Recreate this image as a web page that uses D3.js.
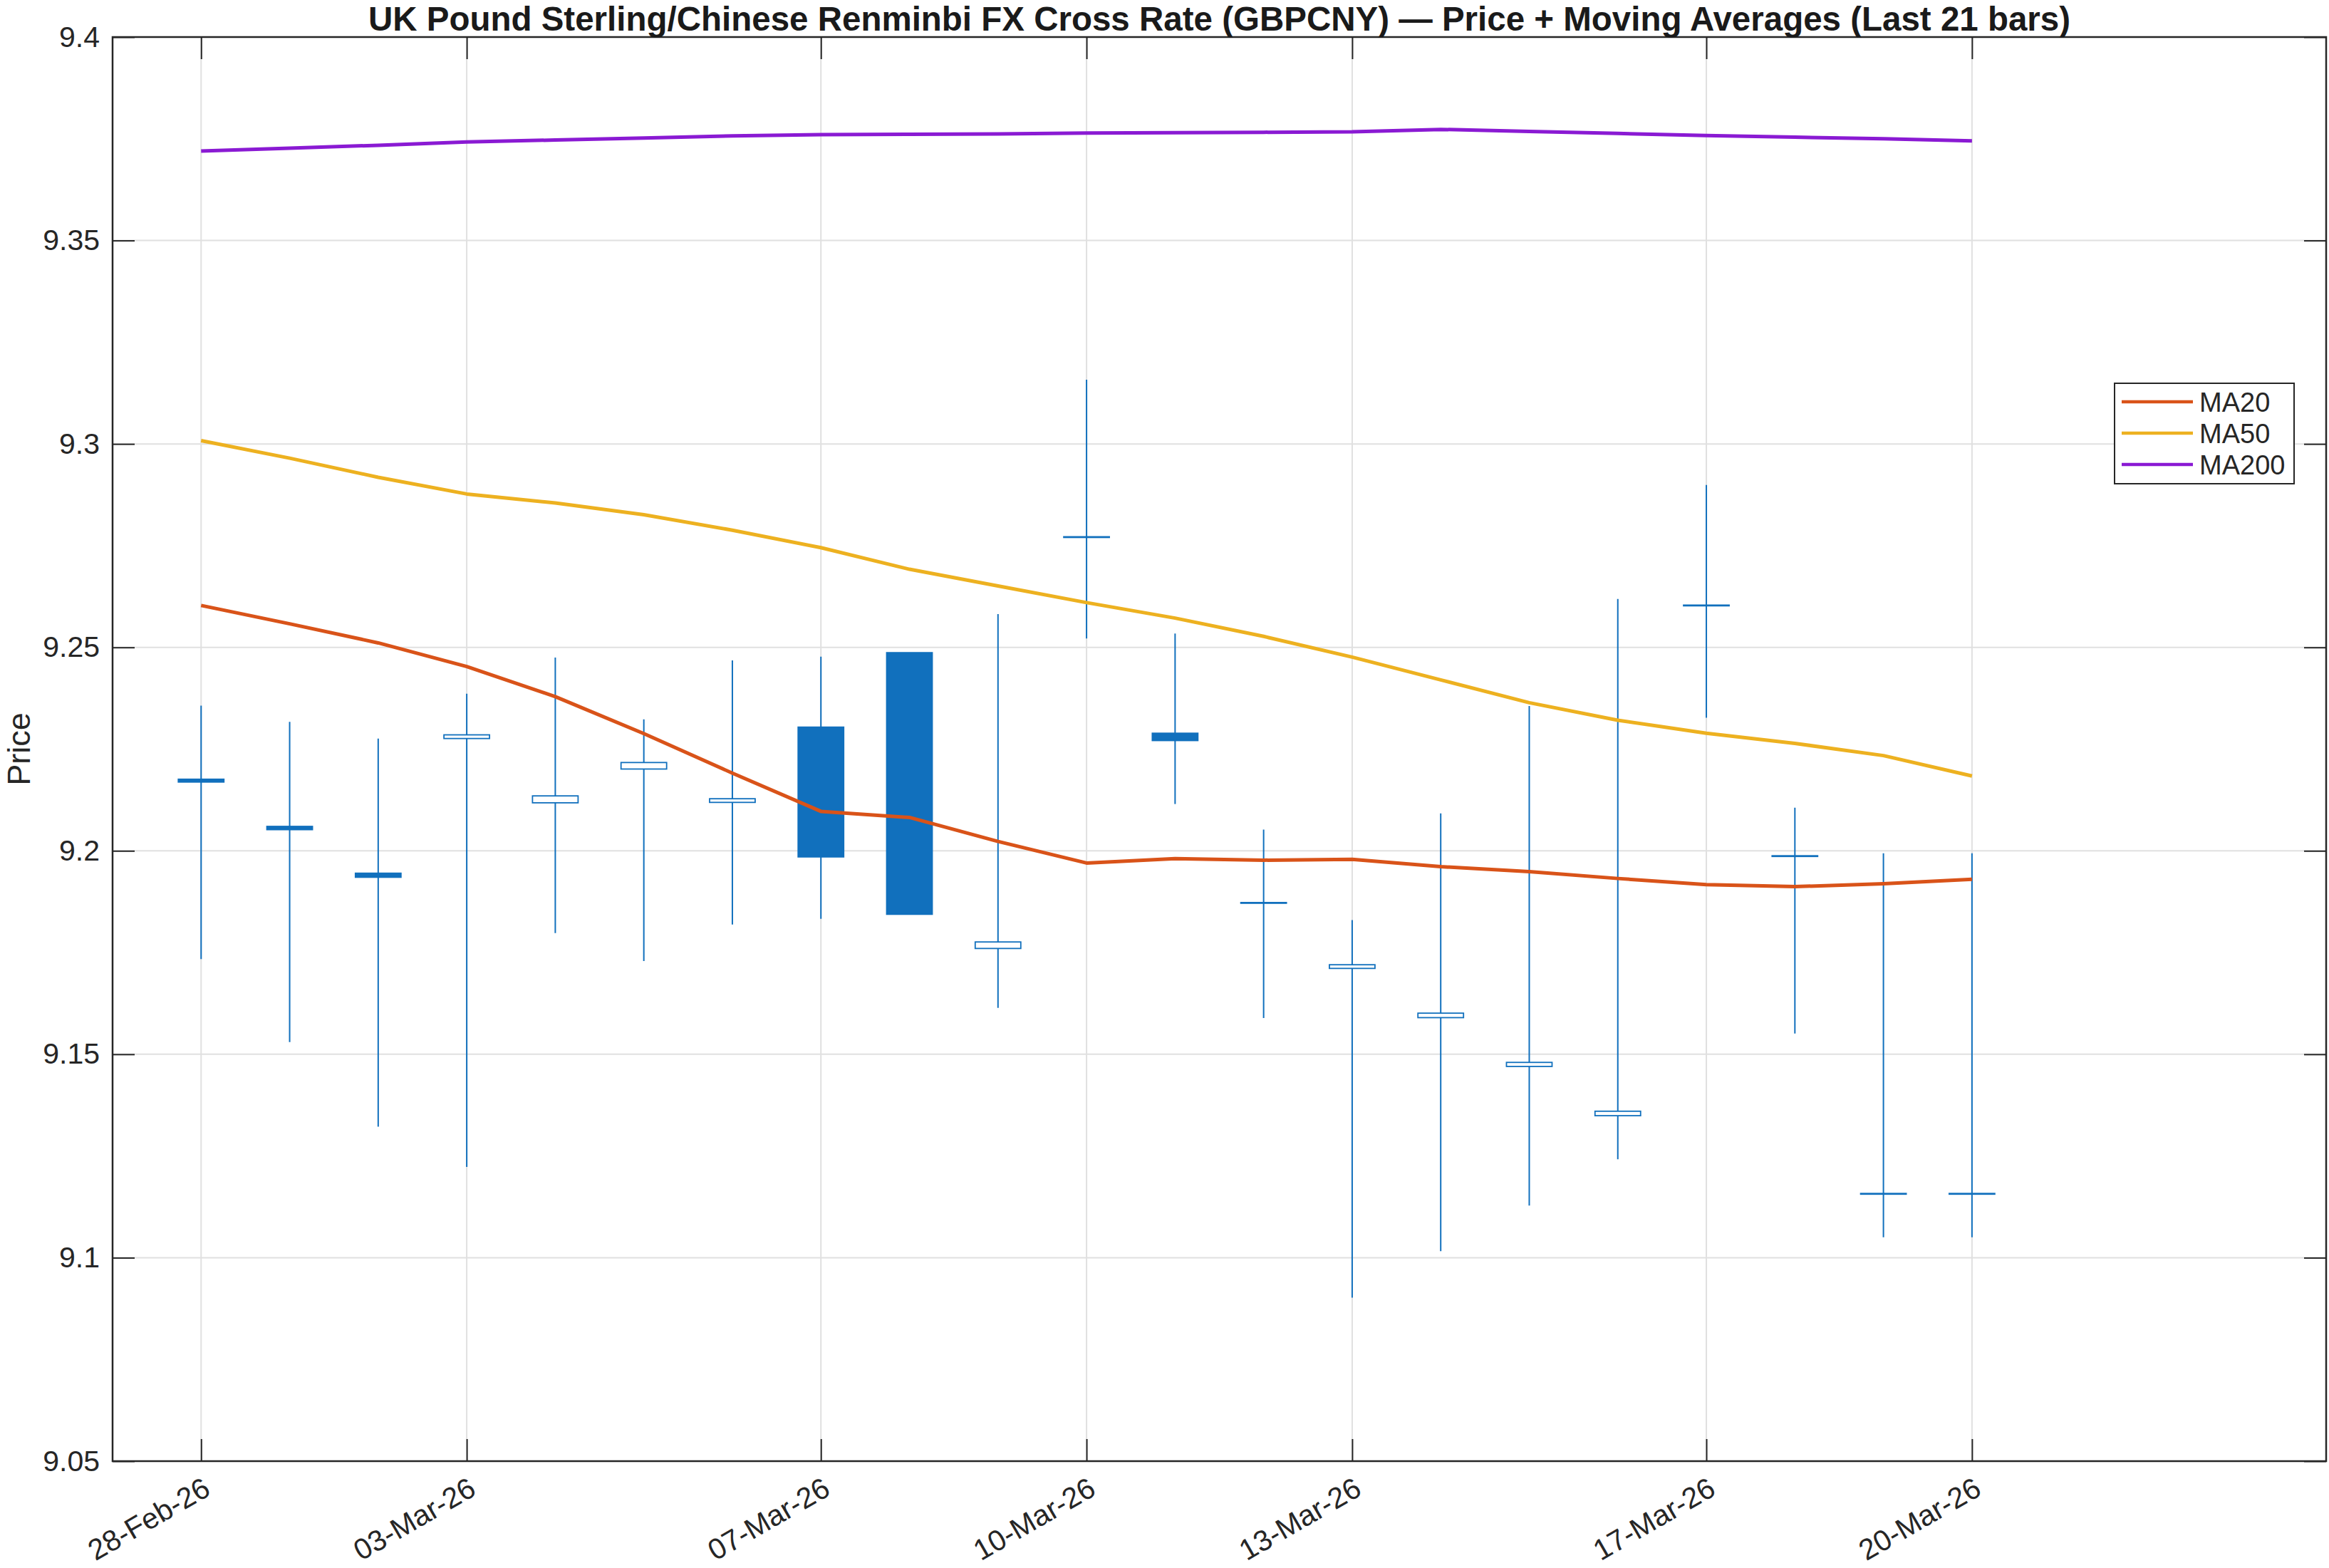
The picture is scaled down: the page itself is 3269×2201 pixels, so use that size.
<!DOCTYPE html>
<html><head><meta charset="utf-8">
<script src="https://cdn.jsdelivr.net/npm/d3@7"></script>
<style>
body{margin:0;background:#fff}
text{font-family:"Liberation Sans",Arial,Helvetica,sans-serif}
</style>
</head><body>
<svg id="chart" width="3269" height="2201"></svg>
<script>
// ---------------- data ----------------
const dates = ["2026-02-28","2026-03-01","2026-03-02","2026-03-03","2026-03-04","2026-03-05","2026-03-06",
  "2026-03-07","2026-03-08","2026-03-09","2026-03-10","2026-03-11","2026-03-12","2026-03-13",
  "2026-03-14","2026-03-15","2026-03-16","2026-03-17","2026-03-18","2026-03-19","2026-03-20"];
const opens  = [9.2176,9.2060,9.1945,9.2276,9.2118,9.2201,9.2119,9.2304,9.2487,9.1760,9.2771,9.2289,9.1872,9.1711,9.1590,9.1470,9.1349,9.2603,9.1987,9.1157,9.1157];
const highs  = [9.2357,9.2317,9.2276,9.2386,9.2475,9.2323,9.2468,9.2477,9.2487,9.2582,9.3158,9.2534,9.2052,9.1830,9.2092,9.2356,9.2619,9.2899,9.2106,9.1994,9.1994];
const lows   = [9.1734,9.1530,9.1322,9.1223,9.1798,9.1729,9.1819,9.1833,9.1844,9.1614,9.2522,9.2115,9.1589,9.0902,9.1016,9.1128,9.1242,9.2327,9.1551,9.1050,9.1050];
const closes = [9.2169,9.2052,9.1935,9.2285,9.2135,9.2217,9.2128,9.1985,9.1844,9.1776,9.2771,9.2271,9.1872,9.1720,9.1601,9.1480,9.1360,9.2603,9.1987,9.1157,9.1157];
const ma20  = [9.2603,9.2558,9.2511,9.2453,9.2379,9.2288,9.2191,9.2097,9.2082,9.2023,9.1970,9.1981,9.1977,9.1979,9.1961,9.1949,9.1932,9.1917,9.1912,9.1919,9.1930];
const ma50  = [9.3008,9.2965,9.2918,9.2877,9.2855,9.2826,9.2788,9.2745,9.2692,9.2651,9.2610,9.2572,9.2527,9.2476,9.2420,9.2364,9.2321,9.2289,9.2264,9.2234,9.2184];
const ma200 = [9.3720,9.3727,9.3734,9.3742,9.3747,9.3752,9.3757,9.3760,9.3761,9.3762,9.3764,9.3765,9.3766,9.3767,9.3773,9.3768,9.3763,9.3758,9.3754,9.3750,9.3745];
const xLimits = ["2026-02-27","2026-03-24"];
const xTickDates = ["2026-02-28","2026-03-03","2026-03-07","2026-03-10","2026-03-13","2026-03-17","2026-03-20"];
const yLimits = [9.05, 9.4];
const yTicks = [9.05,9.1,9.15,9.2,9.25,9.3,9.35,9.4];
const yTickLabels = ["9.05","9.1","9.15","9.2","9.25","9.3","9.35","9.4"];
const seriesNames = ["MA20","MA50","MA200"];
const seriesColors = ["#D95319","#EDB120","#8A1AD3"];
const titleText = "UK Pound Sterling/Chinese Renminbi FX Cross Rate (GBPCNY) \u2014 Price + Moving Averages (Last 21 bars)";
const yLabelText = "Price";

// ---------------- layout ----------------
const L = 158, R = 3265, T = 52, B = 2051;
const ink = "#262626", candleBlue = "#1170BD", gridCol = "#e0e0e0";
const parse = d3.utcParse("%Y-%m-%d");
const svg = d3.select("#chart");

const x = d3.scaleUtc().domain(xLimits.map(parse)).range([L, R]);
const y = d3.scaleLinear().domain(yLimits).range([B, T]);

const bars = dates.map((d,i)=>({date:parse(d), o:opens[i], h:highs[i], l:lows[i], c:closes[i]}));
const step = x(bars[1].date) - x(bars[0].date);
const bodyW = step * 0.515;

// grid
const grid = svg.append("g");
grid.selectAll(".gx").data(xTickDates.map(parse)).join("line")
  .attr("x1",d=>x(d)).attr("x2",d=>x(d)).attr("y1",T).attr("y2",B)
  .attr("stroke",gridCol).attr("stroke-width",2);
grid.selectAll(".gy").data(yTicks).join("line")
  .attr("x1",L).attr("x2",R).attr("y1",d=>y(d)).attr("y2",d=>y(d))
  .attr("stroke",gridCol).attr("stroke-width",2);

// candles
const cg = svg.append("g");
cg.selectAll(".wick").data(bars).join("line")
  .attr("x1",d=>x(d.date)).attr("x2",d=>x(d.date))
  .attr("y1",d=>y(d.h)).attr("y2",d=>y(d.l))
  .attr("stroke",candleBlue).attr("stroke-width",2);
cg.selectAll(".body").data(bars).join("rect")
  .attr("x",d=>x(d.date)-bodyW/2).attr("width",bodyW)
  .attr("y",d=>y(Math.max(d.o,d.c)) - (d.o===d.c ? 0.5 : 0))
  .attr("height",d=>Math.max(Math.abs(y(d.o)-y(d.c)), 1))
  .attr("fill",d=>d.c <= d.o ? candleBlue : "#fff")
  .attr("stroke",candleBlue).attr("stroke-width",1.8);

// moving averages
const line = d3.line().x((d,i)=>x(bars[i].date)).y(d=>y(d));
[ma20, ma50, ma200].forEach((s,k)=>{
  svg.append("path").datum(s).attr("d",line)
    .attr("fill","none").attr("stroke",seriesColors[k])
    .attr("stroke-width",5).attr("stroke-linejoin","round");
});

// axes
const tickLen = 31;
const styleAxis = g => {
  g.select(".domain").remove();
  g.selectAll(".tick line").attr("stroke",ink).attr("stroke-width",2);
  g.selectAll("text").attr("fill",ink).attr("font-size",41)
    .attr("font-family","'Liberation Sans',Arial,sans-serif");
};
svg.append("g").attr("transform",`translate(${L},0)`)
  .call(d3.axisLeft(y).tickValues(yTicks).tickFormat((d,i)=>yTickLabels[i])
    .tickSizeInner(-tickLen).tickSizeOuter(0).tickPadding(18))
  .call(styleAxis);
svg.append("g").attr("transform",`translate(${R},0)`)
  .call(d3.axisRight(y).tickValues(yTicks).tickFormat("").tickSizeInner(-tickLen).tickSizeOuter(0))
  .call(styleAxis);
svg.append("g").attr("transform",`translate(0,${T})`)
  .call(d3.axisTop(x).tickValues(xTickDates.map(parse)).tickFormat("").tickSizeInner(-tickLen).tickSizeOuter(0))
  .call(styleAxis);
const xb = svg.append("g").attr("transform",`translate(0,${B})`)
  .call(d3.axisBottom(x).tickValues(xTickDates.map(parse)).tickFormat(d3.utcFormat("%d-%b-%y"))
    .tickSizeInner(-tickLen).tickSizeOuter(0))
  .call(styleAxis);
xb.selectAll(".tick text")
  .attr("y",null).attr("dy",null)
  .attr("text-anchor","end")
  .attr("transform","translate(15,46) rotate(-30)");

// frame
svg.append("rect").attr("x",L).attr("y",T).attr("width",R-L).attr("height",B-T)
  .attr("fill","none").attr("stroke",ink).attr("stroke-width",2.5);

// title & label
svg.append("text").attr("x",(L+R)/2).attr("y",43).attr("text-anchor","middle")
  .attr("font-size",47.5).attr("font-weight","bold").attr("fill","#1a1a1a").text(titleText);
svg.append("text").attr("transform",`translate(42,${(T+B)/2}) rotate(-90)`)
  .attr("text-anchor","middle").attr("font-size",45).attr("fill",ink).text(yLabelText);

// legend
const lg = svg.append("g").attr("transform","translate(2968,538)");
lg.append("rect").attr("width",252).attr("height",141).attr("fill","#fff")
  .attr("stroke",ink).attr("stroke-width",2);
seriesNames.forEach((n,k)=>{
  const yy = 26 + k*44;
  lg.append("line").attr("x1",10).attr("x2",110).attr("y1",yy).attr("y2",yy)
    .attr("stroke",seriesColors[k]).attr("stroke-width",4.5);
  lg.append("text").attr("x",119).attr("y",yy).attr("dy","0.36em")
    .attr("font-size",38).attr("fill",ink).text(n);
});
</script>
</body></html>
